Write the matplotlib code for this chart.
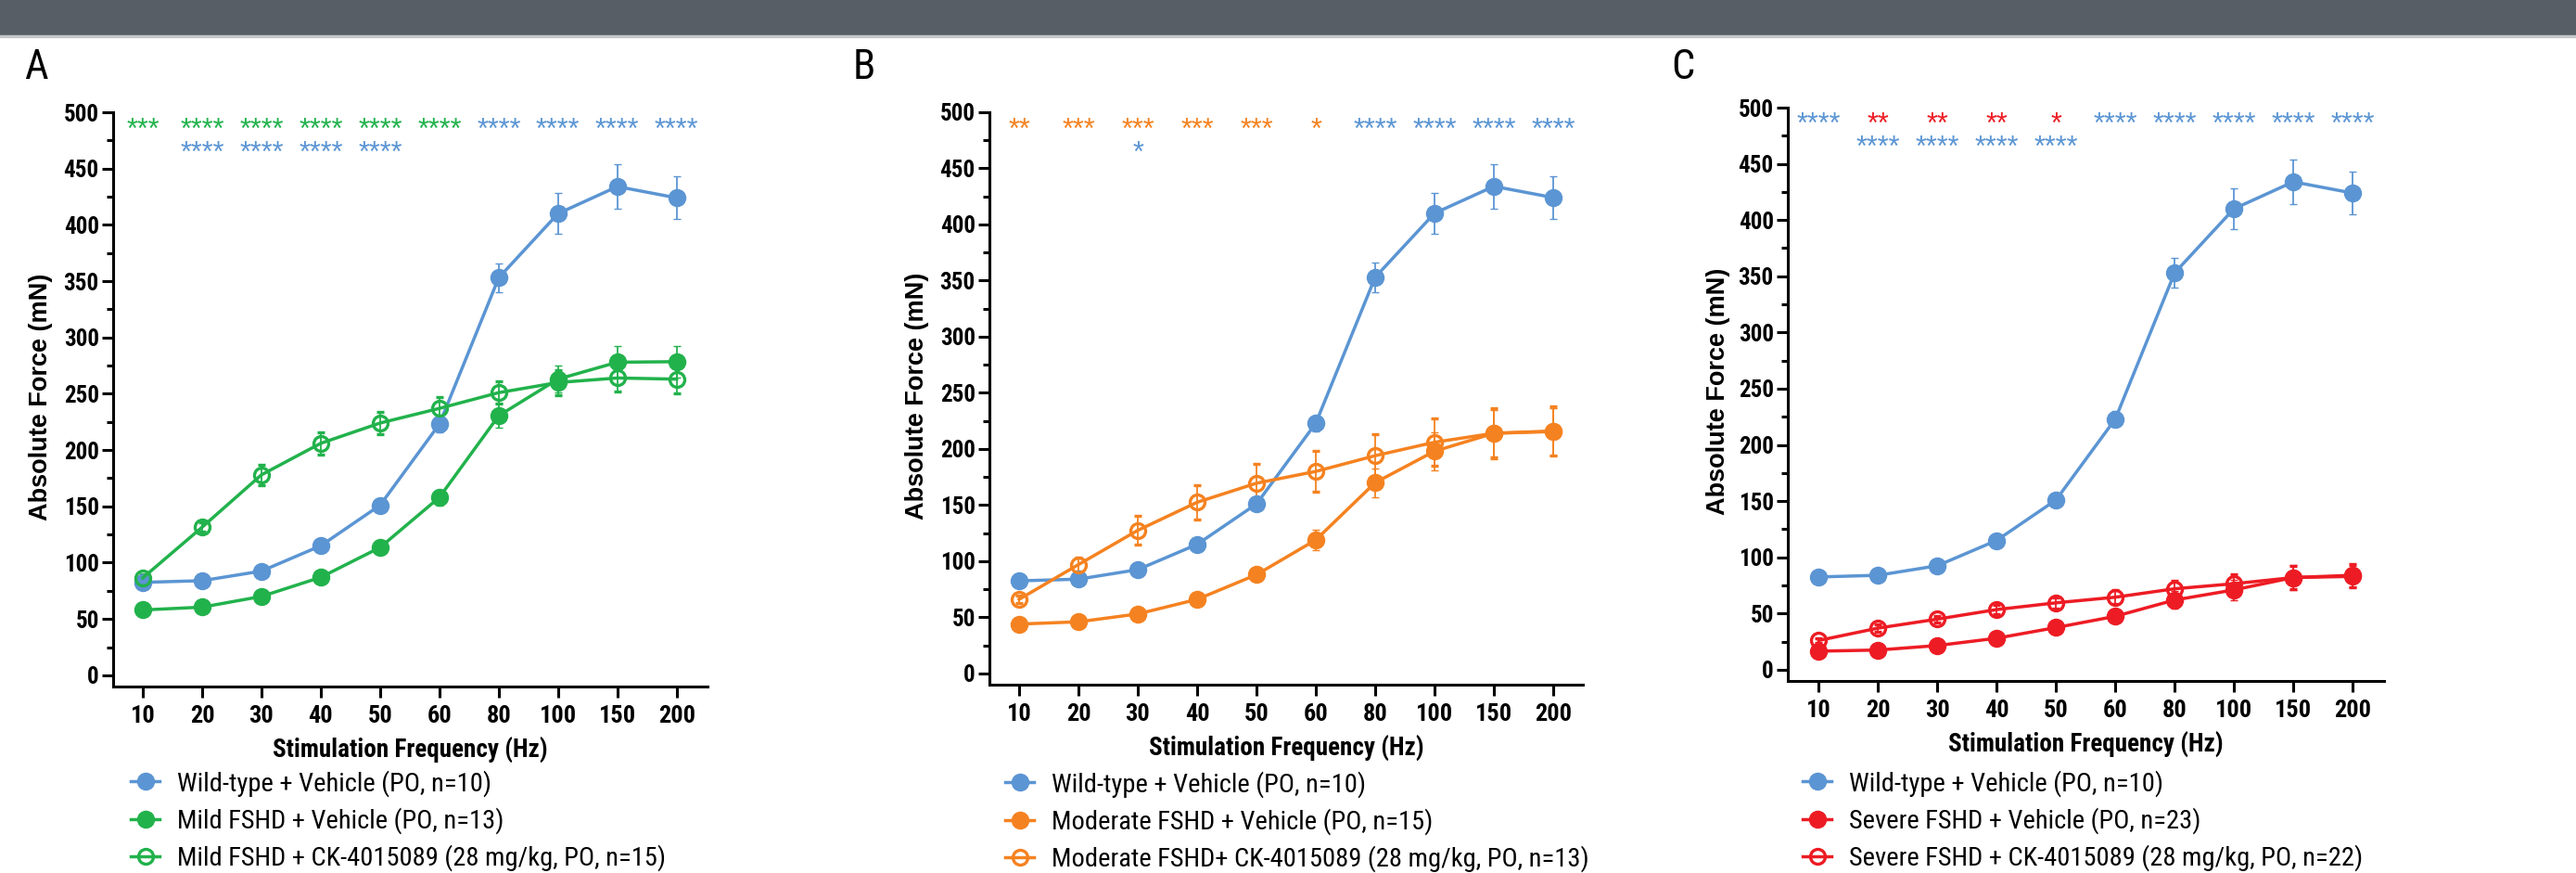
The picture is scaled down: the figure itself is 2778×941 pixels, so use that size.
import numpy as np
import matplotlib
matplotlib.use("Agg")
import matplotlib.pyplot as plt
from matplotlib.patches import Rectangle
from matplotlib.lines import Line2D
from matplotlib.ticker import MultipleLocator

# frequencies (Hz), shown as evenly spaced categories
freqs = ['10', '20', '30', '40', '50', '60', '80', '100', '150', '200']

wt = [82.5, 84, 92.5, 115, 151, 223, 353, 410, 434, 424]
wt_err = [2, 2, 3, 3, 4, 7, 13, 18, 20, 19]

mild_veh = [58, 60.5, 70, 87, 113.5, 158, 230.5, 263, 278, 278.5]
mild_veh_err = [2, 2, 3, 5, 5, 7, 11, 12, 14, 14]
mild_ck = [86.5, 131.5, 178, 206, 224, 237, 251, 260, 264, 263]
mild_ck_err = [3, 4, 9, 10, 10, 10, 10, 11, 12, 13]

mod_veh = [44, 46, 53, 66, 88, 119, 170, 198, 214, 215.5]
mod_veh_err = [2, 2, 3, 3, 4, 9, 13, 17, 21, 21]
mod_ck = [66, 97, 127.5, 152.5, 169.5, 180, 194, 206, 214, 216]
mod_ck_err = [3, 6, 13, 15, 17, 18, 19, 21, 22, 22]

sev_veh = [16.5, 17.5, 21.5, 28, 37.5, 47.5, 62, 71, 82, 84]
sev_veh_err = [2, 2, 2, 3, 3, 4, 8, 9, 11, 11]
sev_ck = [26, 37, 45, 53.5, 59.5, 64.5, 72, 76.5, 82, 83]
sev_ck_err = [2, 3, 3, 4, 5, 6, 7, 8, 10, 10]

# significance stars: row 1 text + colour key, row 2 text (always blue)
stars_A1 = ['***', '****', '****', '****', '****', '****', '****', '****', '****', '****']
stars_A1_col = ['g', 'g', 'g', 'g', 'g', 'g', 'b', 'b', 'b', 'b']
stars_A2 = ['', '****', '****', '****', '****', '', '', '', '', '']
stars_B1 = ['**', '***', '***', '***', '***', '*', '****', '****', '****', '****']
stars_B1_col = ['o', 'o', 'o', 'o', 'o', 'o', 'b', 'b', 'b', 'b']
stars_B2 = ['', '', '*', '', '', '', '', '', '', '']
stars_C1 = ['****', '**', '**', '**', '*', '****', '****', '****', '****', '****']
stars_C1_col = ['b', 'r', 'r', 'r', 'r', 'b', 'b', 'b', 'b', 'b']
stars_C2 = ['', '****', '****', '****', '****', '', '', '', '', '']

BLUE = '#5b95d3'
GREEN = '#22b24c'
ORANGE = '#f58220'
RED = '#ed1c24'
cols = {'b': BLUE, 'g': GREEN, 'o': ORANGE, 'r': RED}

NARROW = ['Roboto Condensed', 'DejaVu Sans']
ARIAL = ['Liberation Sans', 'DejaVu Sans']
W, H = 2778, 941

fig = plt.figure(figsize=(W / 100, H / 100), dpi=100)
fig.patches.append(Rectangle((0, 1 - 38 / H), 1, 38 / H, transform=fig.transFigure,
                             color='#575e66', zorder=0))
fig.patches.append(Rectangle((0, 1 - 40 / H), 1, 2 / H, transform=fig.transFigure,
                             color='#c4c6c8', zorder=0))


def make_ax(left, right, top, bottom, xlo, xhi):
    ax = fig.add_axes([left / W, 1 - bottom / H, (right - left) / W, (bottom - top) / H])
    ax.set_xlim(xlo, xhi)
    ax.set_ylim(-10, 500)
    for s in ['top', 'right']:
        ax.spines[s].set_visible(False)
    for s in ['left', 'bottom']:
        ax.spines[s].set_linewidth(2.2)
    ax.yaxis.set_major_locator(MultipleLocator(50))
    ax.yaxis.set_minor_locator(MultipleLocator(25))
    ax.set_xticks(range(len(freqs)))
    ax.set_xticklabels(freqs)
    ax.tick_params(axis='y', which='major', length=9, width=2.2, direction='out', pad=2)
    ax.tick_params(axis='y', which='minor', length=5, width=2.2)
    ax.tick_params(axis='x', which='major', length=8.5, width=2.2, pad=6)
    for lab in ax.get_yticklabels():
        lab.set_fontfamily(NARROW)
        lab.set_fontweight('bold')
        lab.set_fontsize(18)
    for lab in ax.get_xticklabels():
        lab.set_fontfamily(NARROW)
        lab.set_fontweight('bold')
        lab.set_fontsize(19)
    ax.set_ylabel('Absolute Force (mN)', fontsize=19.5, fontweight='bold', fontfamily=ARIAL)
    ax.yaxis.label.set_va('center')
    ax.set_xlabel('Stimulation Frequency (Hz)', fontsize=19.5, fontweight='bold', fontfamily=NARROW)
    ax.xaxis.label.set_va('center')
    return ax


def series(ax, y, err, color, filled, label):
    x = np.arange(len(freqs))
    ax.errorbar(x, y, yerr=err, color=color, lw=2.5, elinewidth=1.3, capsize=3, capthick=1.3,
                marker='o', ms=13 if filled else 11.5,
                mfc=color if filled else 'none', mec=color, mew=1 if filled else 2.4,
                label=label, clip_on=False)


def stars(ax, row1, row1_col, row2, y1, y2):
    for i, (s, c) in enumerate(zip(row1, row1_col)):
        ax.text(i, y1, s, color=cols[c], ha='center', va='baseline', fontsize=22,
                fontfamily=ARIAL)
    for i, s in enumerate(row2):
        if s:
            ax.text(i, y2, s, color=BLUE, ha='center', va='baseline', fontsize=22,
                    fontfamily=ARIAL)


def legend(ax, entries, x_px, y_px):
    handles = [Line2D([], [], color=c, lw=2.5, marker='o', ms=13 if f else 11.5,
                      mfc=c if f else 'none', mec=c, mew=1 if f else 2.4) for c, f, _ in entries]
    labels = [t for _, _, t in entries]
    ax.legend(handles, labels, loc='upper left', bbox_to_anchor=(x_px / W, 1 - y_px / H),
              bbox_transform=fig.transFigure, frameon=False, borderpad=0, borderaxespad=0,
              handlelength=1.1, handletextpad=0.67, labelspacing=0.4,
              prop={'family': NARROW, 'size': 20.5})


# Panel A
axA = make_ax(122, 763, 121, 740, -0.5, 9.52)
series(axA, wt, wt_err, BLUE, True, 'wt')
series(axA, mild_veh, mild_veh_err, GREEN, True, 'veh')
series(axA, mild_ck, mild_ck_err, GREEN, False, 'ck')
stars(axA, stars_A1, stars_A1_col, stars_A2, 477, 456)
axA.yaxis.set_label_coords((44 - 122) / 641, 0.505)
axA.xaxis.set_label_coords(0.5, -0.112)
legend(axA, [(BLUE, True, 'Wild-type + Vehicle (PO, n=10)'),
             (GREEN, True, 'Mild FSHD + Vehicle (PO, n=13)'),
             (GREEN, False, 'Mild FSHD + CK-4015089 (28 mg/kg, PO, n=15)')], 141, 830)

# Panel B
axB = make_ax(1067, 1707, 121, 738, -0.5, 9.5)
series(axB, wt, wt_err, BLUE, True, 'wt')
series(axB, mod_veh, mod_veh_err, ORANGE, True, 'veh')
series(axB, mod_ck, mod_ck_err, ORANGE, False, 'ck')
stars(axB, stars_B1, stars_B1_col, stars_B2, 477, 456)
axB.yaxis.set_label_coords((989 - 1067) / 640, 0.505)
axB.xaxis.set_label_coords(0.5, -0.112)
legend(axB, [(BLUE, True, 'Wild-type + Vehicle (PO, n=10)'),
             (ORANGE, True, 'Moderate FSHD + Vehicle (PO, n=15)'),
             (ORANGE, False, 'Moderate FSHD+ CK-4015089 (28 mg/kg, PO, n=13)')], 1084, 831)

# Panel C
axC = make_ax(1928, 2571, 116, 734, -0.52, 9.53)
series(axC, wt, wt_err, BLUE, True, 'wt')
series(axC, sev_veh, sev_veh_err, RED, True, 'veh')
series(axC, sev_ck, sev_ck_err, RED, False, 'ck')
stars(axC, stars_C1, stars_C1_col, stars_C2, 478, 457)
axC.yaxis.set_label_coords((1853 - 1928) / 643, 0.505)
axC.xaxis.set_label_coords(0.5, -0.112)
legend(axC, [(BLUE, True, 'Wild-type + Vehicle (PO, n=10)'),
             (RED, True, 'Severe FSHD + Vehicle (PO, n=23)'),
             (RED, False, 'Severe FSHD + CK-4015089 (28 mg/kg, PO, n=22)')], 1944, 830)

# panel letters
for x_px, letter in [(26, 'A'), (920, 'B'), (1802, 'C')]:
    fig.text(x_px / W, 1 - 73 / H, letter, fontsize=32, fontfamily=NARROW,
             ha='left', va='center')

fig.savefig('out.png', dpi=100)
